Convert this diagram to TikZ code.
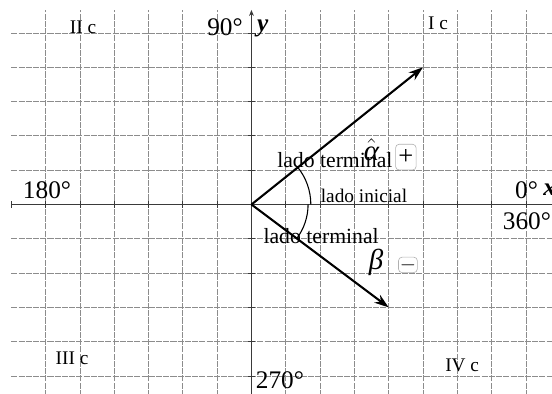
\documentclass[tikz,border=0pt]{standalone}
\usepackage{fontspec}
\setmainfont{Liberation Serif}
\definecolor{gridgray}{HTML}{8C8C8C}
\definecolor{axisgray}{HTML}{3A3A3A}
\definecolor{boxgray}{HTML}{B0B0B0}
\usetikzlibrary{arrows.meta,positioning}

\begin{document}
\begin{tikzpicture}[
  gridline/.style={gridgray,line width=0.6pt,dash pattern=on 5pt off 1pt},
  axisline/.style={axisgray,line width=0.7pt},
  vec/.style={line width=1.7pt,-{Stealth[length=12pt,width=8pt]}},
  quad/.style={font=\fontsize{16}{18}\selectfont},
  deg/.style={font=\fontsize{21}{24}\selectfont,inner sep=0pt},
  side/.style={font=\fontsize{18}{20}\selectfont,inner sep=0pt},
  greek/.style={font=\fontsize{24}{26}\selectfont\itshape,inner sep=0pt},
  signbox/.style={draw=boxgray,rounded corners=3pt,line width=0.5pt,inner sep=0pt,font=\fontsize{22}{24}\selectfont}
]
\useasboundingbox (-7.33,-5.52) rectangle (8.76,5.96);
\clip (-7.33,-5.52) rectangle (8.76,5.96);

% grid
\foreach \y in {-5,...,5} \draw[gridline] (-7,\y) -- (9.5,\y);
\foreach \x in {-6,...,-1,1,2,...,9} \draw[gridline] (\x,-6) -- (\x,5.67);

% axes
\coordinate (O) at (0,0);
\coordinate (xend) at (9.6,0);
\coordinate (xbeg) at (-7,0);
\coordinate (ybeg) at (0,-6);
\coordinate (yend) at (0,5.67);
\draw[axisline,-{Stealth[length=5pt,width=4pt]}] (xbeg) -- (xend);
\draw[axisline,-{Stealth[length=5pt,width=4pt]}] (ybeg) -- (yend);
\foreach \x in {-7,...,-1,1,2,...,9} \draw[axisline] (\x,-0.09) -- (\x,0.09);
\foreach \y in {-5,...,-1,1,2,...,5} \draw[axisline] (-0.09,\y) -- (0.09,\y);

% sides
\coordinate (A) at (5,4);
\coordinate (B) at (4,-3);
\draw[vec] (O) -- (A);
\draw[vec] (O) -- (B);
\draw[line width=0.9pt] ([shift={(0:1.73)}]O) arc (0:38.66:1.73);
\draw[line width=0.9pt] ([shift={(0:1.65)}]O) arc (0:-36.87:1.65);

% labels
\node[quad] (q1) at (5.44,5.29) {I c};
\node[quad] (q2) at (-4.91,5.17) {II c};
\node[quad] (q3) at (-5.23,-4.48) {III c};
\node[quad] (q4) at (6.14,-4.68) {IV c};
\node[deg] (d90) at (-0.77,5.17) {90°};
\node[deg] (d180) at (-5.96,0.42) {180°};
\node[deg] (d0) at (8.02,0.42) {0°};
\node[deg] (d360) at (8.03,-0.5) {360°};
\node[deg] (d270) at (0.83,-5.12) {270°};
\node[deg,anchor=west] (xlab) at (8.5,0.42) {\textbf{\textit{x}}};
\node[deg] (ylab) at (0.33,5.12) {\textbf{\textit{y}}};
\node[side] (term1) at (2.43,1.30) {lado terminal};
\node[side] (term2) at (2.03,-0.92) {lado terminal};
\node[font=\fontsize{16}{18}\selectfont,inner sep=0pt] (ini) at (3.28,0.25) {lado inicial};
\node[greek] (alpha) at (3.5,1.6) {$\hat{\mbox{α}}$};
\node[greek] (beta) at (3.63,-1.68) {β};
\node[signbox,minimum width=0.6cm,minimum height=0.75cm] (plus) at (4.5,1.38) {+};
\node[signbox,minimum width=0.55cm,minimum height=0.45cm,font=\fontsize{18}{20}\selectfont] (minus) at (4.56,-1.76) {$-$};
\end{tikzpicture}
\end{document}
